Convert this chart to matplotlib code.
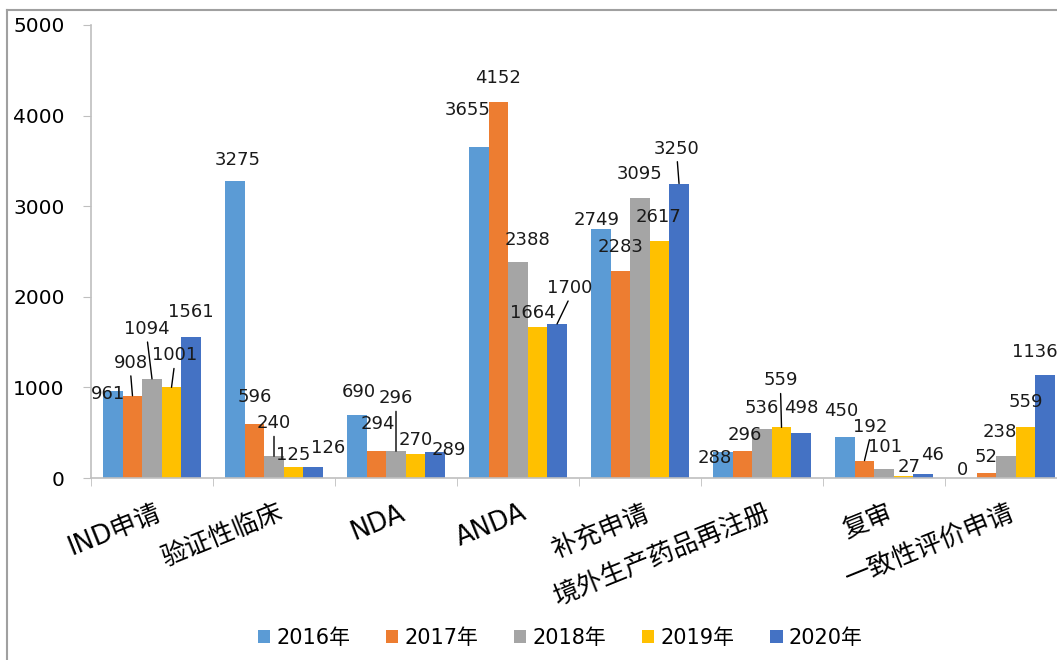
import matplotlib
matplotlib.use('Agg')
import matplotlib.pyplot as plt
import numpy as np
from matplotlib.lines import Line2D
from matplotlib.transforms import ScaledTranslation

plt.rcParams['font.family'] = ['DejaVu Sans', 'Noto Sans CJK SC']

categories = ['IND申请', '验证性临床', 'NDA', 'ANDA', '补充申请', '境外生产药品再注册', '复审', '一致性评价申请']
years = ['2016年', '2017年', '2018年', '2019年', '2020年']
v2016 = [961, 3275, 690, 3655, 2749, 288, 450, 0]
v2017 = [908, 596, 294, 4152, 2283, 296, 192, 52]
v2018 = [1094, 240, 296, 2388, 3095, 536, 101, 238]
v2019 = [1001, 125, 270, 1664, 2617, 559, 27, 559]
v2020 = [1561, 126, 289, 1700, 3250, 498, 46, 1136]
y_ticks = [0, 1000, 2000, 3000, 4000, 5000]

series = [v2016, v2017, v2018, v2019, v2020]
colors = ['#5B9BD5', '#ED7D31', '#A5A5A5', '#FFC000', '#4472C4']

# label offsets (pixels) from bar top, per year then per category
label_off = [
    [(-5, -3), (3, 21), (2, 23), (-11, 37), (-4, 9), (-8, -6), (-4, 26), (-4, 8)],
    [(-2, 33), (0, 27), (1, 27), (0, 24), (0, 24), (2, 16), (6, 34), (0, 16)],
    [(-5, 50), (0, 33), (0, 53), (9, 22), (0, 24), (0, 21), (1, 22), (-6, 24)],
    [(3, 32), (0, 12), (0, 14), (-5, 14), (-1, 24), (-1, 47), (6, 9), (0, 25)],
    [(0, 25), (15, 19), (14, 2), (13, 36), (-2, 35), (0, 25), (9, 19), (-10, 23)],
]
leaders = {(1, 0), (2, 0), (3, 0), (2, 1), (2, 2), (4, 3), (4, 4), (3, 5), (1, 6)}

fig = plt.figure(figsize=(10.57, 6.6), dpi=100)
ax = fig.add_axes([91 / 1057, 182 / 660, 976 / 1057, 453 / 660])

x = np.arange(len(categories))
width = 0.16
for j, vals in enumerate(series):
    pos = x + (j - 2) * width
    ax.bar(pos, vals, width, color=colors[j], label=years[j])
    for i, v in enumerate(vals):
        dx, dy = label_off[j][i]
        kw = {}
        if (j, i) in leaders:
            kw['arrowprops'] = dict(arrowstyle='-', color='black', lw=1,
                                    relpos=(0.5, 0), shrinkA=1, shrinkB=0)
        ax.annotate(str(v), (pos[i], v), xytext=(dx, dy), textcoords='offset pixels',
                    ha='center', va='center', fontsize=13, color='#1a1a1a',
                    annotation_clip=False, **kw)

ax.set_xlim(-0.5, len(categories) - 0.5)
ax.set_ylim(0, 5000)
ax.set_yticks(y_ticks)
ax.tick_params(axis='y', labelsize=14.5, length=6, color='#BFBFBF', pad=13)
ax.set_xticks(x)
ax.set_xticklabels(categories, rotation=22, ha='right', rotation_mode='anchor', fontsize=18.5)
ax.set_xticks(np.arange(len(categories) + 1) - 0.5, minor=True)
ax.tick_params(axis='x', which='major', length=0, pad=16)
ax.tick_params(axis='x', which='minor', length=6, color='#BFBFBF')
shift = ScaledTranslation(3 / 100, 0, fig.dpi_scale_trans)
for lbl in ax.get_xticklabels():
    lbl.set_transform(lbl.get_transform() + shift)
for s in ['top', 'right']:
    ax.spines[s].set_visible(False)
for s in ['left', 'bottom']:
    ax.spines[s].set_color('#BFBFBF')
    ax.spines[s].set_linewidth(1.2)

fig.legend(loc='center', bbox_to_anchor=(0.53, 22 / 660), ncol=5, frameon=False,
           fontsize=15, handlelength=0.6, handleheight=0.6, handletextpad=0.3,
           columnspacing=1.7)

# outer chart border
fig.add_artist(Line2D([7 / 1057, 7 / 1057], [0, 650 / 660], transform=fig.transFigure, color='#A0A0A0', lw=1.5))
fig.add_artist(Line2D([7 / 1057, 1], [650 / 660, 650 / 660], transform=fig.transFigure, color='#A0A0A0', lw=1.5))

fig.savefig('out.png', dpi=100)
